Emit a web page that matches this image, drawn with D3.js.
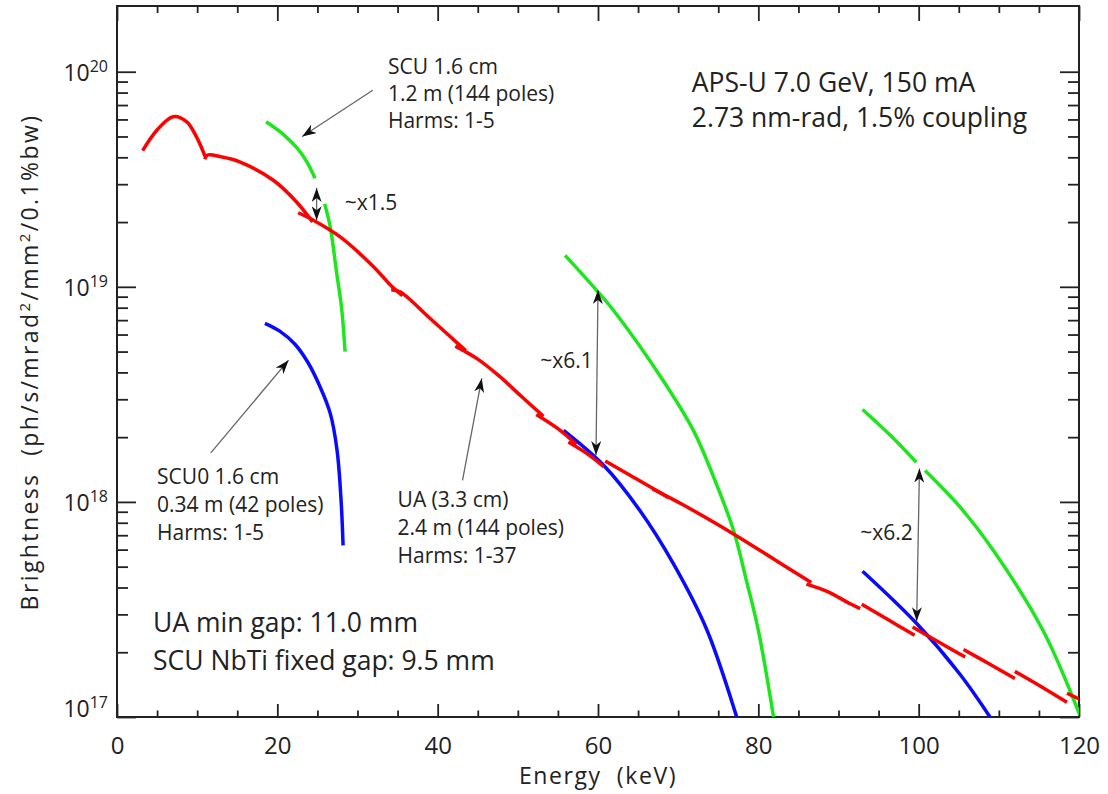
<!DOCTYPE html>
<html>
<head>
<meta charset="utf-8">
<script src="https://cdn.jsdelivr.net/npm/d3@7"></script>
<style>
  body { margin: 0; background: #fff; }
  text { font-family: "Open Sans", sans-serif; fill: #222; }
</style>
</head>
<body>
<div id="chart"></div>
<script>
// ---- data (energy keV, brightness ph/s/mrad2/mm2/0.1%bw) ----
// UA 3.3 cm, one piece per harmonic tuning curve
var uaSegments = [
  [[3.2,4.30e19],[5.0,5.36e19],[7.0,6.18e19],[8.7,5.85e19],[9.9,4.99e19],[11.0,4.03e19]],
  [[10.95,3.92e19],[11.3,4.10e19],[13.0,4.02e19],[15.3,3.81e19],[19.5,3.13e19],[22.4,2.48e19],[24.4,2.00e19]],
  [[22.6,2.21e19],[24.5,2.04e19],[27.8,1.71e19],[32.0,1.24e19],[34.1,1.02e19],[35.6,0.91e19]],
  [[34.2,9.7e18],[35.3,9.48e18],[39.0,7.16e18],[43.5,5.05e18]],
  [[42.2,5.30e18],[45.0,4.61e18],[47.8,3.81e18],[50.5,3.08e18],[53.2,2.50e18]],
  [[52.3,2.55e18],[55.0,2.19e18],[57.3,1.85e18]],
  [[56.3,1.90e18],[58.5,1.69e18],[60.7,1.46e18]],
  [[60.9,1.55e18],[64.0,1.33e18],[67.3,1.13e18],[68.8,1.045e18]],
  [[66.8,1.15e18],[70.6,9.7e17],[76.9,7.1e17],[82.0,5.4e17],[86.6,4.22e17]],
  [[86.0,4.15e17],[88.5,3.85e17],[91.4,3.37e17],[92.7,3.19e17]],
  [[92.9,3.34e17],[96.0,2.86e17],[99.5,2.40e17]],
  [[99.25,2.62e17],[102.5,2.23e17],[105.8,1.90e17]],
  [[105.6,2.06e17],[109.0,1.75e17],[112.0,1.51e17]],
  [[112.0,1.63e17],[115.2,1.39e17],[118.5,1.17e17]],
  [[118.5,1.29e17],[120.1,1.21e17]]
];
// SCU 1.6 cm, 1.2 m
var scuSegments = [
  [[18.6,5.85e19],[20.7,5.13e19],[22.45,4.42e19],[23.7,3.80e19],[24.7,3.20e19]],
  [[25.9,2.43e19],[26.6,1.90e19],[27.4,1.16e19],[28.0,8.07e18],[28.45,5.0e18]],
  [[55.9,1.40e19],[59.8,9.66e18],[61.9,7.80e18],[68.1,3.68e18],[71.9,2.15e18],[74.4,1.31e18],[76.9,7.38e17],[78.5,4.33e17],[80.0,2.53e17],[81.9,1.0e17]],
  [[93.0,2.69e18],[96.4,2.05e18],[99.7,1.53e18]],
  [[100.8,1.40e18],[105.15,9.48e17],[109.3,5.96e17],[115.5,2.53e17],[120.1,1.02e17]]
];
// SCU0 1.6 cm, 0.34 m
var scu0Segments = [
  [[18.45,6.76e18],[20.3,6.22e18],[22.2,5.41e18],[23.8,4.46e18],[25.3,3.45e18],[26.6,2.58e18],[27.45,1.74e18],[27.95,1.02e18],[28.2,6.28e17]],
  [[55.7,2.15e18],[60.7,1.48e18],[65.2,9.14e17],[69.4,5.16e17],[73.6,2.53e17],[77.3,1.0e17]],
  [[93.0,4.76e17],[99.75,2.72e17],[105.15,1.58e17],[108.9,1.0e17]]
];

var energyTicks = [0, 20, 40, 60, 80, 100, 120];
var decadeTicks = [1e17, 1e18, 1e19, 1e20];

// notes: anchor in data units, lines stacked below
var notes = [
  {e: 33.8, b: 9.75e19, gap: 27, size: 21, lines: ["SCU 1.6 cm", "1.2 m (144 poles)", "Harms: 1-5"]},
  {e: 5.0,  b: 1.21e18, gap: 28, size: 21, lines: ["SCU0 1.6 cm", "0.34 m (42 poles)", "Harms: 1-5"]},
  {e: 35.0, b: 9.48e17, gap: 28, size: 21, lines: ["UA (3.3 cm)", "2.4 m (144 poles)", "Harms: 1-37"]},
  {e: 28.4, b: 2.28e19, gap: 0,  size: 21, lines: ["~x1.5"]},
  {e: 52.8, b: 4.19e18, gap: 0,  size: 21, lines: ["~x6.1"]},
  {e: 92.7, b: 6.64e17, gap: 0,  size: 21, lines: ["~x6.2"]},
  {e: 71.7, b: 8.07e19, gap: 35, size: 26.5, lines: ["APS-U 7.0 GeV, 150 mA", "2.73 nm-rad, 1.5% coupling"]},
  {e: 4.5,  b: 2.48e17, gap: 38, size: 26.5, lines: ["UA min gap: 11.0 mm", "SCU NbTi fixed gap: 9.5 mm"]}
];
// pointer arrows [from, to]; two-headed ones have both = true
var pointers = [
  {from: [31.9, 8.2e19],  to: [23.1, 5.0e19],  both: false},
  {from: [11.7, 1.69e18], to: [21.4, 4.56e18], both: false},
  {from: [43.1, 1.26e18], to: [45.5, 3.75e18], both: false},
  {from: [24.9, 2.88e19], to: [24.9, 2.04e19], both: true},
  {from: [60.0, 9.66e18], to: [59.75, 1.65e18], both: true},
  {from: [100.1, 1.43e18], to: [99.75, 2.79e17], both: true}
];

// ---- layout ----
var W = 1108, H = 794;
var margin = {left: 117, top: 6, right: 29, bottom: 77};
var width = W - margin.left - margin.right;
var height = H - margin.top - margin.bottom;

var svg = d3.select("#chart").append("svg").attr("width", W).attr("height", H);
var g = svg.append("g").attr("transform", "translate(" + margin.left + "," + margin.top + ")");

var x = d3.scaleLinear().domain([0, 120]).range([0, width]);
var y = d3.scaleLog().domain([1e17, 2.021e20]).range([height, 0]);

var defs = svg.append("defs");
defs.append("clipPath").attr("id", "plotClip")
  .append("rect").attr("width", width).attr("height", height);
defs.append("marker").attr("id", "head")
  .attr("viewBox", "0 0 14 10").attr("refX", 14).attr("refY", 5)
  .attr("markerWidth", 14).attr("markerHeight", 10)
  .attr("markerUnits", "userSpaceOnUse").attr("orient", "auto-start-reverse")
  .append("path").attr("d", "M0,0 L14,5 L0,10 L4,5 Z").attr("fill", "#111");

// ---- axes (ticks inside on all four sides) ----
var minorE = d3.range(0, 121, 5).filter(function (d) { return d % 20 !== 0; });
var minorB = [];
decadeTicks.forEach(function (d) {
  for (var k = 2; k <= 9; k++) if (d * k < 2.0e20) minorB.push(d * k);
});

function styleAxis(sel) {
  sel.select(".domain").remove();
  sel.selectAll("line").attr("stroke", "#222").attr("stroke-width", 1.8);
}

g.append("g").attr("transform", "translate(0," + height + ")")
  .call(d3.axisBottom(x).tickValues(energyTicks).tickSize(-13).tickPadding(20).tickFormat(d3.format("d")))
  .call(styleAxis)
  .selectAll("text").style("font-size", "24px").style("font-family", "Open Sans").attr("fill", "#222");
g.append("g").attr("transform", "translate(0," + height + ")")
  .call(d3.axisBottom(x).tickValues(minorE).tickSize(-6.5).tickFormat(""))
  .call(styleAxis);
g.append("g").call(d3.axisTop(x).tickValues(energyTicks).tickSize(-15).tickFormat("")).call(styleAxis);
g.append("g").call(d3.axisTop(x).tickValues(minorE).tickSize(-7).tickFormat("")).call(styleAxis);

g.append("g").call(d3.axisLeft(y).tickValues(decadeTicks).tickSize(-19).tickFormat("")).call(styleAxis);
g.append("g").call(d3.axisLeft(y).tickValues(minorB).tickSize(-11).tickFormat("")).call(styleAxis);
g.append("g").attr("transform", "translate(" + width + ",0)")
  .call(d3.axisRight(y).tickValues(decadeTicks).tickSize(-19).tickFormat("")).call(styleAxis);
g.append("g").attr("transform", "translate(" + width + ",0)")
  .call(d3.axisRight(y).tickValues(minorB).tickSize(-11).tickFormat("")).call(styleAxis);

// y labels as 10 with superscript exponent
decadeTicks.forEach(function (d) {
  var t = g.append("text")
    .attr("x", -9)
    .attr("y", Math.min(y(d) + 9.5, height))
    .attr("text-anchor", "end");
  t.append("tspan").style("font-size", "23px").text("10");
  t.append("tspan").attr("dy", -9.5).style("font-size", "16px").text(Math.round(Math.log10(d)));
});

g.append("rect").attr("width", width).attr("height", height)
  .attr("fill", "none").attr("stroke", "#222").attr("stroke-width", 2);

// axis titles
g.append("text")
  .attr("x", width / 2).attr("y", height + 67)
  .attr("text-anchor", "middle")
  .style("font-size", "23px").style("letter-spacing", "1.6px").style("white-space", "pre")
  .text("Energy  (keV)");

var yt = svg.append("text")
  .attr("transform", "translate(38,362) rotate(-90)")
  .attr("text-anchor", "middle")
  .style("font-size", "23px").style("letter-spacing", "2.4px").style("white-space", "pre");
yt.append("tspan").text("Brightness  (ph/s/mrad");
yt.append("tspan").attr("dy", -8).style("font-size", "15px").text("2");
yt.append("tspan").attr("dy", 8).text("/mm");
yt.append("tspan").attr("dy", -8).style("font-size", "15px").text("2");
yt.append("tspan").attr("dy", 8).text("/0.1%bw)");

// ---- curves ----
var line = d3.line()
  .x(function (d) { return x(d[0]); })
  .y(function (d) { return y(d[1]); })
  .curve(d3.curveCatmullRom.alpha(0.5));

var plot = g.append("g").attr("clip-path", "url(#plotClip)");

function drawSeries(segs, colour) {
  plot.selectAll(null).data(segs).enter().append("path")
    .attr("d", line)
    .attr("fill", "none")
    .attr("stroke", colour)
    .attr("stroke-width", 3.5);
}
drawSeries(scu0Segments, "#0a0aff");
drawSeries(scuSegments, "#1ee61e");
drawSeries(uaSegments, "#ff0000");

// ---- annotations ----
pointers.forEach(function (p) {
  var a = g.append("line")
    .attr("x1", x(p.from[0])).attr("y1", y(p.from[1]))
    .attr("x2", x(p.to[0])).attr("y2", y(p.to[1]))
    .attr("stroke", "#666").attr("stroke-width", 1.3)
    .attr("marker-end", "url(#head)");
  if (p.both) a.attr("marker-start", "url(#head)");
});

notes.forEach(function (n) {
  var t = g.append("text").style("font-size", n.size + "px");
  n.lines.forEach(function (s, i) {
    t.append("tspan")
      .attr("x", x(n.e))
      .attr("y", y(n.b) + i * n.gap)
      .text(s);
  });
});
</script>
</body>
</html>
